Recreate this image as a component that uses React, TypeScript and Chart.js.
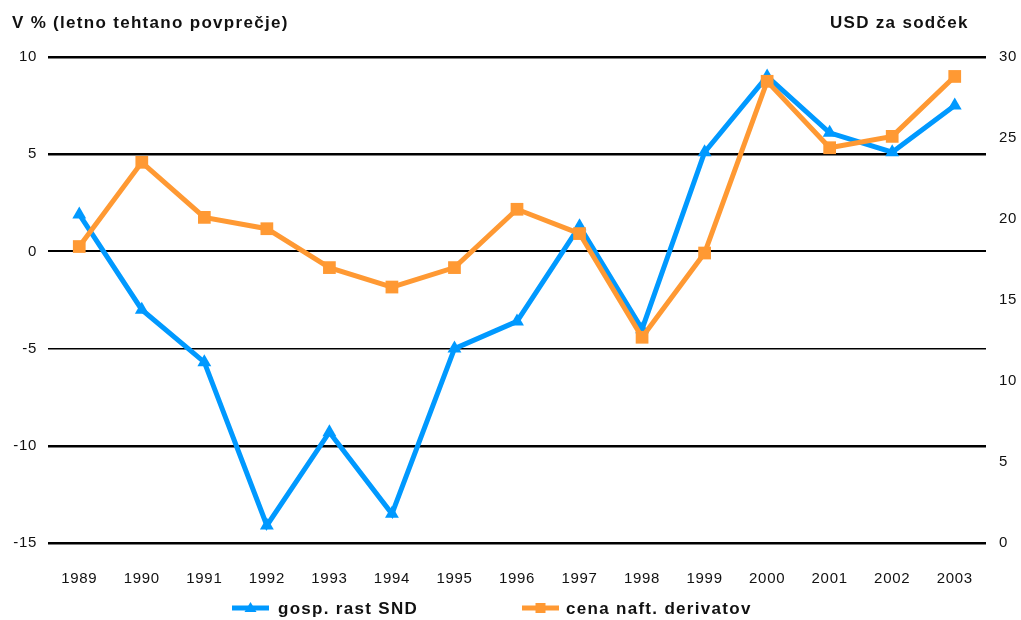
import React, { useEffect, useRef } from 'react';
import { Chart, registerables } from 'chart.js';

Chart.register(...registerables);

const years = ['1989', '1990', '1991', '1992', '1993', '1994', '1995', '1996', '1997', '1998', '1999', '2000', '2001', '2002', '2003'];
const gdpGrowth = [1.9, -3.0, -5.7, -14.1, -9.3, -13.5, -5.0, -3.6, 1.3, -4.0, 5.1, 9.0, 6.1, 5.1, 7.5];
const oilPrice = [18.3, 23.5, 20.1, 19.4, 17.0, 15.8, 17.0, 20.6, 19.1, 12.7, 17.9, 28.5, 24.4, 25.1, 28.8];
const leftAxisRange = [-15, 10, 5];
const rightAxisRange = [0, 30, 5];
const leftTitle = 'V % (letno tehtano povprečje)';
const rightTitle = 'USD za sodček';
const seriesNames = ['gosp. rast SND', 'cena naft. derivatov'];

const BLUE = '#0099FF';
const ORANGE = '#FF9933';
const FONT = '"Liberation Sans", Arial, sans-serif';

const textPlugin = {
  id: 'texts',
  beforeDraw(chart: any) {
    chart.ctx.letterSpacing = '0.7px';
  },
  afterDraw(chart: any) {
    const ctx = chart.ctx;
    ctx.save();
    ctx.letterSpacing = '1.3px';
    ctx.font = 'bold 17px ' + FONT;
    ctx.fillStyle = '#111';
    ctx.textBaseline = 'middle';
    ctx.textAlign = 'left';
    ctx.fillText(leftTitle, 12, 23);
    ctx.fillText(rightTitle, 830, 23);

    const ly = 608;
    const items = [
      { x: 232, color: BLUE, shape: 'tri', label: seriesNames[0], tx: 278 },
      { x: 522, color: ORANGE, shape: 'rect', label: seriesNames[1], tx: 566 },
    ];
    items.forEach((it) => {
      ctx.strokeStyle = it.color;
      ctx.fillStyle = it.color;
      ctx.lineWidth = 5;
      ctx.beginPath();
      ctx.moveTo(it.x, ly);
      ctx.lineTo(it.x + 37, ly);
      ctx.stroke();
      const cx = it.x + 18.5;
      ctx.beginPath();
      if (it.shape === 'tri') {
        ctx.moveTo(cx, ly - 6);
        ctx.lineTo(cx + 6, ly + 4);
        ctx.lineTo(cx - 6, ly + 4);
        ctx.closePath();
      } else {
        ctx.rect(cx - 5, ly - 5, 10, 10);
      }
      ctx.fill();
      ctx.fillStyle = '#111';
      ctx.fillText(it.label, it.tx, ly + 1);
    });
    ctx.restore();
  },
};

export default function App() {
  const ref = useRef<HTMLCanvasElement | null>(null);

  useEffect(() => {
    if (!ref.current) return;
    const chart = new Chart(ref.current, {
      type: 'line',
      data: {
        labels: years,
        datasets: [
          {
            label: seriesNames[1],
            data: oilPrice,
            yAxisID: 'y1',
            borderColor: ORANGE,
            backgroundColor: ORANGE,
            borderWidth: 5,
            pointStyle: 'rect',
            pointRadius: 9,
            pointBorderWidth: 0,
            pointBackgroundColor: ORANGE,
            tension: 0,
            order: 0,
          },
          {
            label: seriesNames[0],
            data: gdpGrowth,
            yAxisID: 'y',
            borderColor: BLUE,
            backgroundColor: BLUE,
            borderWidth: 5,
            pointStyle: 'triangle',
            pointRadius: 8,
            pointBorderWidth: 0,
            pointBackgroundColor: BLUE,
            tension: 0,
            order: 1,
          },
        ],
      },
      options: {
        animation: false,
        responsive: false,
        maintainAspectRatio: false,
        layout: { padding: { top: 57, left: 0, right: 0, bottom: 0 } },
        plugins: { legend: { display: false }, tooltip: { enabled: false } },
        scales: {
          x: {
            offset: true,
            grid: { display: false, drawTicks: false },
            border: { display: false },
            ticks: { color: '#111', font: { family: FONT, size: 15 }, padding: 27, maxRotation: 0, autoSkip: false },
            afterFit: (s: any) => { s.height = 77; },
          },
          y: {
            position: 'left',
            min: leftAxisRange[0],
            max: leftAxisRange[1],
            ticks: { stepSize: leftAxisRange[2], color: '#111', font: { family: FONT, size: 15 }, padding: 11 },
            grid: {
              color: '#000',
              lineWidth: (c: any) => (c.tick && c.tick.value === -5 ? 1.5 : c.tick && c.tick.value === 0 ? 2 : 2.5),
              drawTicks: false,
            },
            border: { display: false },
            afterFit: (s: any) => { s.width = 48; },
          },
          y1: {
            position: 'right',
            min: rightAxisRange[0],
            max: rightAxisRange[1],
            ticks: { stepSize: rightAxisRange[2], color: '#111', font: { family: FONT, size: 15 }, padding: 13 },
            grid: { display: false, drawTicks: false },
            border: { display: false },
            afterFit: (s: any) => { s.width = 35; },
          },
        },
      },
      plugins: [textPlugin],
    });
    return () => chart.destroy();
  }, []);

  return (
    <div style={{ position: 'absolute', left: 0, top: 0, width: 1021, height: 620, background: '#fff' }}>
      <canvas ref={ref} width={1021} height={620} style={{ display: 'block', width: 1021, height: 620 }} />
    </div>
  );
}
